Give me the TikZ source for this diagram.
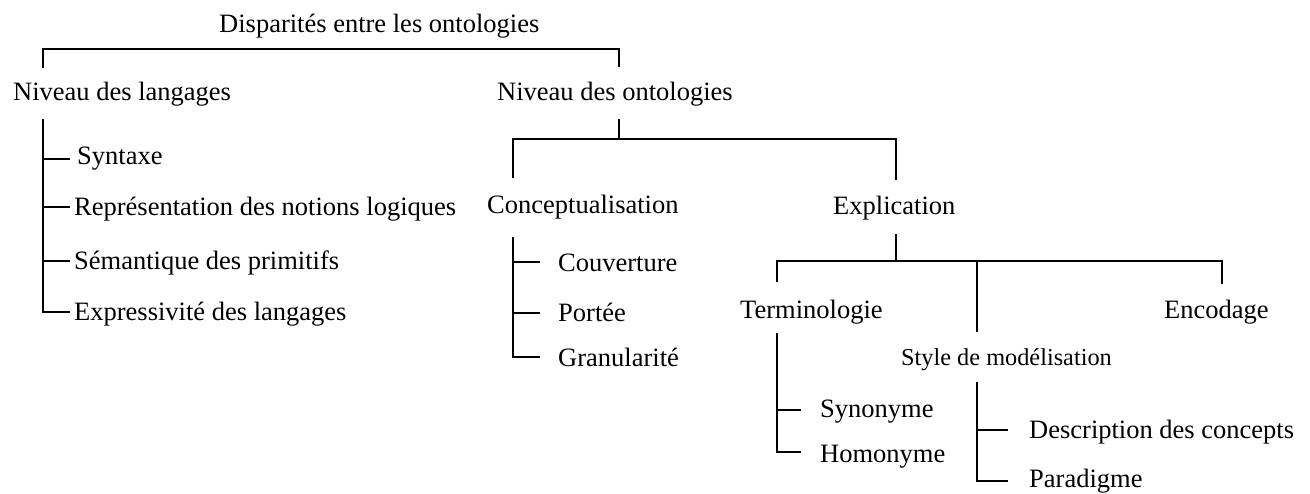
\documentclass[tikz,border=0pt]{standalone}
\usepackage{fontspec}
\setmainfont{Liberation Serif}
\begin{document}
\begin{tikzpicture}[x=1pt,y=-1pt,
  lbl/.style={anchor=base west, inner sep=0pt, font=\fontsize{26.5}{30}\selectfont},
  lblsmall/.style={lbl, font=\fontsize{24.3}{28}\selectfont},
  link/.style={line width=2pt, line cap=butt, line join=miter}]
\useasboundingbox (0,0) rectangle (1310,493);

% labels
\node[lbl] (root) at (219,32) {Disparités entre les ontologies};
\node[lbl] (lang) at (13,100) {Niveau des langages};
\node[lbl] (onto) at (497,100) {Niveau des ontologies};
\node[lbl] (syn)  at (77,164) {Syntaxe};
\node[lbl] (rep)  at (74,215) {Représentation des notions logiques};
\node[lbl] (sem)  at (74,269) {Sémantique des primitifs};
\node[lbl] (expr) at (74,320) {Expressivité des langages};
\node[lbl] (conc) at (487,213) {Conceptualisation};
\node[lbl] (expl) at (833,214) {Explication};
\node[lbl] (couv) at (558,271) {Couverture};
\node[lbl] (port) at (558,321) {Portée};
\node[lbl] (gran) at (558,366) {Granularité};
\node[lbl] (term) at (740,318) {Terminologie};
\node[lbl] (enc)  at (1164,318) {Encodage};
\node[lblsmall] (style) at (901,365) {Style de modélisation};
\node[lbl] (syno) at (820,417) {Synonyme};
\node[lbl] (homo) at (820,462) {Homonyme};
\node[lbl] (desc) at (1029,438) {Description des concepts};
\node[lbl] (para) at (1029,487) {Paradigme};

% junction points
\coordinate (r1) at (43,68);   \coordinate (r3) at (619,49);  \coordinate (r4) at (619,67);
\coordinate (l0) at (43,119);
\coordinate (l1e) at (70,159); \coordinate (l2e) at (70,207);
\coordinate (l3e) at (70,261); \coordinate (l4e) at (70,312);
\coordinate (o0) at (619,119); \coordinate (o1) at (619,139);
\coordinate (oc) at (513,178); \coordinate (oe) at (896,180);
\coordinate (c0) at (513,237);
\coordinate (c1e) at (540,262); \coordinate (c2e) at (540,313); \coordinate (c3e) at (540,357);
\coordinate (e0) at (896,234); \coordinate (e1) at (896,261);
\coordinate (et) at (777,282); \coordinate (es) at (977,332); \coordinate (en) at (1222,284);
\coordinate (t0) at (777,333);
\coordinate (t1e) at (801,410); \coordinate (t2e) at (801,452);
\coordinate (s0) at (977,382);
\coordinate (s1e) at (1008,430); \coordinate (s2e) at (1008,481);

% root bracket
\draw[link] (r1) |- (r3) -- (r4);

% language level
\draw[link] (l0) |- (l4e);
\draw[link] (l0 |- l1e) -- (l1e);
\draw[link] (l0 |- l2e) -- (l2e);
\draw[link] (l0 |- l3e) -- (l3e);

% ontology level
\draw[link] (o0) -- (o1);
\draw[link] (oc) -- (oc |- o1) -- (oe |- o1) -- (oe);

% conceptualisation
\draw[link] (c0) |- (c3e);
\draw[link] (c0 |- c1e) -- (c1e);
\draw[link] (c0 |- c2e) -- (c2e);

% explication
\draw[link] (e0) -- (e1);
\draw[link] (et) -- (et |- e1) -- (en |- e1) -- (en);
\draw[link] (es |- e1) -- (es);

% terminologie
\draw[link] (t0) |- (t2e);
\draw[link] (t0 |- t1e) -- (t1e);

% style de modelisation
\draw[link] (s0) |- (s2e);
\draw[link] (s0 |- s1e) -- (s1e);
\end{tikzpicture}
\end{document}
